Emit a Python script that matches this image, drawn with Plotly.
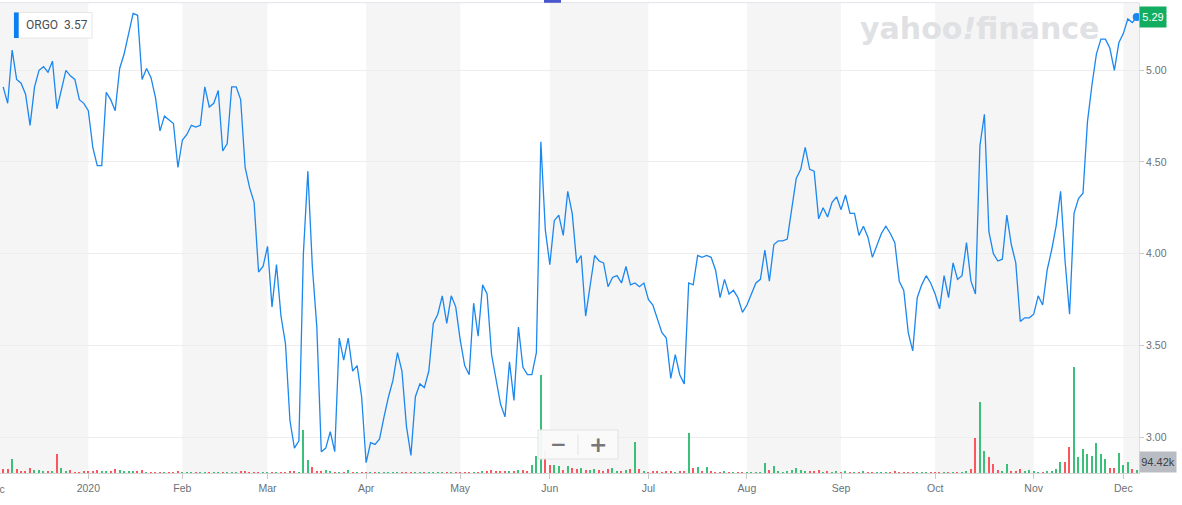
import pandas as pd
import plotly.graph_objects as go

# ---------------- data ----------------
ticker = "ORGO"
legend_value = "3.57"
last_price_label = "5.29"
last_volume_label = "94.42k"

holidays = ["2019-12-25", "2020-01-01", "2020-01-20", "2020-02-17", "2020-04-10",
            "2020-05-25", "2020-07-03", "2020-09-07", "2020-11-26"]
start_date = "2019-12-04"
end_date = "2020-12-04"

close = [
    4.91, 4.82, 5.11, 4.95, 4.93, 4.87, 4.70, 4.91, 5.00, 5.02,
    4.99, 5.05, 4.79, 4.89, 5.00, 4.97, 4.95, 4.84, 4.82, 4.78,
    4.58, 4.48, 4.48, 4.88, 4.84, 4.78, 5.01, 5.09, 5.21, 5.31,
    5.30, 4.95, 5.01, 4.96, 4.85, 4.67, 4.75, 4.73, 4.71, 4.47,
    4.62, 4.65, 4.70, 4.69, 4.70, 4.91, 4.80, 4.82, 4.89, 4.56,
    4.60, 4.91, 4.91, 4.84, 4.47, 4.36, 4.28, 3.90, 3.93, 4.04,
    3.71, 3.94, 3.66, 3.51, 3.09, 2.94, 2.98, 4.00, 4.45, 3.93,
    3.60, 2.92, 2.94, 3.03, 2.92, 3.54, 3.42, 3.54, 3.36, 3.39,
    3.22, 2.86, 2.97, 2.96, 2.99, 3.11, 3.22, 3.31, 3.46, 3.36,
    3.06, 2.90, 3.22, 3.29, 3.27, 3.36, 3.62, 3.67, 3.77, 3.62,
    3.77, 3.71, 3.53, 3.39, 3.34, 3.73, 3.55, 3.83, 3.78, 3.45,
    3.31, 3.18, 3.11, 3.41, 3.20, 3.60, 3.38, 3.34, 3.34, 3.46,
    4.61, 4.13, 3.94, 4.18, 4.21, 4.10, 4.34, 4.22, 3.95, 3.99,
    3.66, 3.84, 3.99, 3.96, 3.95, 3.82, 3.87, 3.88, 3.84, 3.93,
    3.83, 3.84, 3.82, 3.84, 3.75, 3.72, 3.64, 3.57, 3.54, 3.32,
    3.45, 3.34, 3.29, 3.84, 3.83, 3.99, 3.98, 3.99, 3.98, 3.91,
    3.76, 3.86, 3.78, 3.80, 3.76, 3.68, 3.72, 3.78, 3.84, 3.86,
    4.02, 3.85, 4.05, 4.07, 4.07, 4.08, 4.25, 4.41, 4.46, 4.58,
    4.46, 4.45, 4.19, 4.25, 4.20, 4.28, 4.31, 4.24, 4.32, 4.22,
    4.22, 4.10, 4.15, 4.09, 3.98, 4.05, 4.11, 4.15, 4.11, 4.06,
    3.85, 3.80, 3.57, 3.47, 3.76, 3.83, 3.88, 3.84, 3.78, 3.70,
    3.88, 3.76, 3.95, 3.86, 3.88, 4.06, 3.85, 3.78, 4.59, 4.76,
    4.12, 4.00, 3.96, 3.97, 4.21, 4.05, 3.95, 3.63, 3.65, 3.65,
    3.67, 3.77, 3.72, 3.91, 4.02, 4.15, 4.34, 3.96, 3.67, 4.22,
    4.30, 4.33, 4.72, 4.92, 5.09, 5.17, 5.17, 5.12, 5.00, 5.15,
    5.20, 5.28, 5.26, 5.29,
]

# volume in thousands of shares
volume_k = [
    150, 130, 500, 130, 40, 70, 185, 95, 115, 45,
    45, 70, 655, 165, 60, 95, 35, 35, 60, 70,
    70, 95, 45, 45, 45, 130, 95, 45, 45, 45,
    45, 95, 30, 25, 25, 35, 35, 25, 25, 70,
    15, 15, 15, 20, 15, 20, 15, 15, 20, 35,
    15, 15, 20, 40, 40, 30, 20, 30, 30, 25,
    20, 20, 20, 30, 70, 70, 35, 1490, 445, 210,
    70, 70, 95, 70, 35, 35, 25, 95, 25, 25,
    25, 35, 20, 35, 25, 20, 20, 35, 20, 20,
    20, 20, 35, 35, 20, 20, 20, 20, 20, 35,
    35, 20, 20, 20, 20, 35, 25, 45, 70, 115,
    45, 70, 45, 45, 45, 95, 95, 45, 270, 595,
    3420, 760, 270, 290, 235, 95, 235, 175, 130, 185,
    115, 95, 130, 115, 45, 130, 165, 70, 45, 95,
    140, 1085, 150, 70, 25, 70, 60, 35, 60, 60,
    35, 60, 70, 1400, 165, 210, 70, 210, 70, 35,
    35, 60, 25, 25, 25, 35, 35, 25, 25, 35,
    350, 95, 235, 70, 35, 60, 115, 175, 95, 45,
    45, 45, 115, 30, 45, 25, 70, 25, 70, 25,
    25, 35, 70, 35, 35, 25, 25, 35, 25, 70,
    35, 25, 25, 35, 25, 35, 25, 25, 25, 25,
    25, 25, 35, 25, 25, 70, 150, 1225, 2485, 770,
    560, 325, 95, 70, 305, 45, 70, 130, 70, 95,
    45, 25, 35, 70, 70, 150, 385, 385, 910, 3710,
    560, 830, 655, 595, 1050, 655, 480, 175, 175, 700,
    280, 375, 150, 94.42,
]

price_ticks = [3.00, 3.50, 4.00, 4.50, 5.00]

# ---------------- derived ----------------
dates = pd.bdate_range(start_date, end_date, freq="C", holidays=holidays)
n = min(len(dates), len(close), len(volume_k))
dates = list(dates[:n])
close = close[:n]
volume_k = volume_k[:n]
idx = list(range(n))  # trading-session index (the chart has no gaps for weekends/holidays)

GREEN = "#3cbf78"
RED = "#f9565d"
bar_colors = [RED if (i == 0 or close[i] < close[i - 1]) else GREEN for i in range(n)]

# first trading session of each month (index into the session list)
month_starts = []  # (index, timestamp)
seen = set()
for i, d in enumerate(dates):
    key = (d.year, d.month)
    if key not in seen:
        seen.add(key)
        month_starts.append((i, d))

tick_vals = [i for i, d in month_starts if d.year != 2019]
tick_text = ["2020" if d.month == 1 else d.strftime("%b") for i, d in month_starts if d.year != 2019]

X_RANGE = [-0.71, n - 0.5]
Y_RANGE = [2.804, 5.367]

# ---------------- layout helpers (pixel -> paper) ----------------
FIG_W, FIG_H = 1182, 505
M_L, M_R, M_T, M_B = 0, 43, 3, 32
PW = FIG_W - M_L - M_R
PH = FIG_H - M_T - M_B


def px(x):
    return (x - M_L) / PW


def py(y):
    return (FIG_H - M_B - y) / PH


SHADE = "#f5f5f5"

fig = go.Figure()

fig.add_trace(go.Bar(
    x=idx, y=volume_k, yaxis="y2",
    marker=dict(color=bar_colors, line=dict(width=0)),
    width=0.28, hoverinfo="skip", showlegend=False,
))

fig.add_trace(go.Scatter(
    x=idx, y=close, mode="lines",
    line=dict(color="#1b87ef", width=1.3),
    hoverinfo="skip", showlegend=False,
))

fig.add_trace(go.Scatter(
    x=[idx[-1]], y=[close[-1]], mode="markers",
    marker=dict(color="#1b87ef", size=8),
    cliponaxis=False, hoverinfo="skip", showlegend=False,
))

shapes = []
# alternating month shading (even months: Dec, Feb, Apr, ...)
bounds = [i for i, d in month_starts] + [n + 30]
for k, (i, d) in enumerate(month_starts):
    if d.month % 2 == 0:
        x0 = X_RANGE[0] - 5 if k == 0 else i
        shapes.append(dict(type="rect", xref="x", yref="paper",
                           x0=x0, x1=bounds[k + 1], y0=0, y1=1,
                           fillcolor=SHADE, line=dict(width=0), layer="below"))

# top border line
shapes.append(dict(type="line", xref="paper", yref="paper", x0=0, x1=1, y0=py(2.7), y1=py(2.7),
                   line=dict(color="#e1e1ea", width=1)))
# top handle
shapes.append(dict(type="rect", xref="paper", yref="paper", x0=px(544), x1=px(561),
                   y0=py(2.8), y1=py(0), fillcolor="#4a56cc", line=dict(width=0)))
# legend box
shapes.append(dict(type="rect", xref="paper", yref="paper", x0=px(14), x1=px(92),
                   y0=py(38), y1=py(12.5), fillcolor="#ffffff",
                   line=dict(color="#e6e6e6", width=1), layer="above"))
shapes.append(dict(type="rect", xref="paper", yref="paper", x0=px(14), x1=px(18.7),
                   y0=py(38), y1=py(12.5), fillcolor="#0a7ff0", line=dict(width=0), layer="above"))
# zoom control
shapes.append(dict(type="rect", xref="paper", yref="paper", x0=px(538), x1=px(618),
                   y0=py(459), y1=py(430), fillcolor="rgba(250,250,250,0.95)",
                   line=dict(color="#e2e2e2", width=1)))
shapes.append(dict(type="line", xref="paper", yref="paper", x0=px(578), x1=px(578),
                   y0=py(455), y1=py(434), line=dict(color="#e3e3e3", width=1)))

tick_font = dict(family="Liberation Sans, Arial, sans-serif", size=10.5, color="#6c7177")

annotations = [
    dict(xref="paper", yref="paper", x=px(24), y=py(25.5), xanchor="left", yanchor="middle",
         text=f"{ticker}  {legend_value}", showarrow=False,
         font=dict(family="Roboto, sans-serif", size=12, color="#464e56")),
    dict(xref="paper", yref="y", x=1, y=close[-1], xanchor="left", yanchor="middle",
         text=last_price_label, showarrow=False, width=24, height=18,
         bgcolor="#12ad60", font=dict(family="Liberation Sans, Arial, sans-serif", size=11, color="#ffffff")),
    dict(xref="paper", yref="paper", x=1, y=0, xanchor="left", yanchor="bottom",
         text=last_volume_label, showarrow=False, width=34, height=18,
         bgcolor="#b9bcc3", font=dict(family="Liberation Sans, Arial, sans-serif", size=11, color="#3b4046")),
    dict(xref="paper", yref="paper", x=px(979), y=py(29), xanchor="center", yanchor="middle",
         text="yahoo<i>!</i>finance", showarrow=False,
         font=dict(family="DejaVu Sans, sans-serif", size=30, color="#dfe1e4", weight="bold")),
    dict(xref="paper", yref="paper", x=px(558), y=py(444), xanchor="center", yanchor="middle",
         text="<b>−</b>", showarrow=False,
         font=dict(family="DejaVu Sans, sans-serif", size=20, color="#777777")),
    dict(xref="paper", yref="paper", x=px(598), y=py(444), xanchor="center", yanchor="middle",
         text="<b>+</b>", showarrow=False,
         font=dict(family="DejaVu Sans, sans-serif", size=22, color="#777777")),
    dict(xref="paper", yref="paper", x=px(-4.5), y=py(488.5), xanchor="center", yanchor="middle",
         text="Dec", showarrow=False, font=tick_font),
]

fig.update_layout(
    width=FIG_W, height=FIG_H, autosize=False,
    margin=dict(l=M_L, r=M_R, t=M_T, b=M_B, pad=0),
    paper_bgcolor="#ffffff", plot_bgcolor="#ffffff",
    bargap=0, showlegend=False,
    shapes=shapes, annotations=annotations,
    xaxis=dict(
        type="linear",
        range=X_RANGE,
        tickvals=tick_vals, ticktext=tick_text,
        ticks="outside", ticklen=5, tickcolor="#c9c9c9",
        showline=True, linecolor="#d4d4d4", linewidth=1,
        showgrid=False, zeroline=False, tickfont=tick_font,
        fixedrange=True,
    ),
    yaxis=dict(
        side="right", range=Y_RANGE,
        tickvals=price_ticks, ticktext=[f"{v:.2f}" for v in price_ticks],
        ticks="outside", ticklen=4, tickcolor="#c9c9c9",
        showline=True, linecolor="#e0e0e0", linewidth=1,
        showgrid=True, gridcolor="#ededed", gridwidth=1,
        zeroline=False, tickfont=tick_font,
    ),
    yaxis2=dict(overlaying="y", range=[0, 16450], visible=False, showgrid=False),
)

fig.write_html(
    "out.html",
    config={"displayModeBar": False},
    post_script="document.body.style.margin='0px';document.body.style.padding='0px';"
                "document.body.style.overflow='hidden';",
)
